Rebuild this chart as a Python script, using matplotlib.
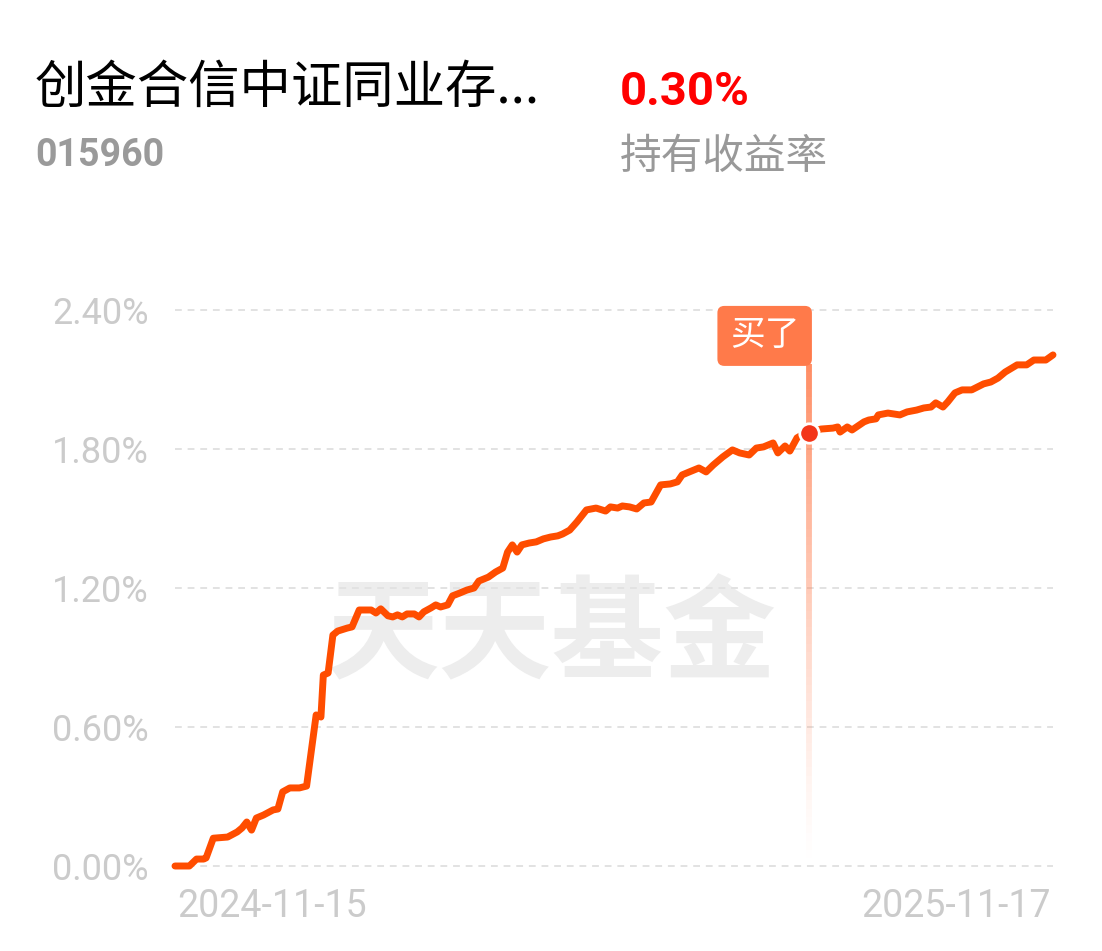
import matplotlib
matplotlib.use("Agg")
import matplotlib.pyplot as plt
import numpy as np
import pandas as pd

plt.rcParams['font.family'] = ['Noto Sans CJK SC', 'DejaVu Sans']

# 数据: 距 2024-11-15 的天数, 累计收益率(%)
start_date = "2024-11-15"
end_date = "2025-11-17"
days = [0, 2, 6, 9, 12, 13, 16, 22, 26, 28, 30, 32, 34, 37, 41, 43, 45, 48, 52, 55,
        59, 61, 62, 64, 66, 68, 72, 74, 77, 82, 84, 86, 89, 91, 93, 95, 97, 100, 102, 104,
        107, 109, 111, 114, 116, 119, 122, 125, 127, 131, 134, 137, 139, 141, 143, 145, 148, 151, 154, 157,
        160, 162, 165, 168, 171, 172, 176, 180, 182, 185, 187, 190, 193, 196, 199, 203, 207, 210, 212, 215,
        219, 222, 225, 229, 233, 236, 240, 243, 246, 250, 252, 255, 257, 260, 262, 265, 270, 275, 277, 278,
        281, 283, 288, 290, 293, 294, 298, 303, 306, 310, 313, 316, 318, 321, 323, 326, 329, 333, 338, 341,
        344, 347, 352, 356, 359, 364, 367]
rates = [0.00, 0.00, 0.00, 0.03, 0.03, 0.035, 0.12, 0.125, 0.147, 0.164, 0.19, 0.155, 0.207, 0.22, 0.242, 0.246, 0.32, 0.337, 0.337, 0.345,
         0.652, 0.643, 0.824, 0.833, 0.997, 1.014, 1.027, 1.032, 1.105, 1.105, 1.092, 1.11, 1.08, 1.075, 1.084, 1.075, 1.088, 1.088, 1.075, 1.097,
         1.114, 1.127, 1.118, 1.127, 1.166, 1.178, 1.191, 1.20, 1.23, 1.247, 1.269, 1.286, 1.355, 1.386, 1.355, 1.386, 1.394, 1.399, 1.412, 1.42,
         1.425, 1.433, 1.45, 1.485, 1.524, 1.537, 1.545, 1.532, 1.55, 1.545, 1.554, 1.55, 1.541, 1.567, 1.571, 1.645, 1.649, 1.658, 1.688, 1.701,
         1.718, 1.701, 1.731, 1.766, 1.796, 1.783, 1.774, 1.804, 1.809, 1.826, 1.783, 1.813, 1.791, 1.848, 1.86, 1.869, 1.886, 1.89, 1.895, 1.873,
         1.895, 1.882, 1.917, 1.925, 1.93, 1.947, 1.955, 1.947, 1.96, 1.968, 1.977, 1.981, 1.999, 1.981, 2.003, 2.042, 2.055, 2.055, 2.081, 2.089,
         2.106, 2.132, 2.163, 2.163, 2.184, 2.184, 2.206]
buy_day = 265
buy_rate = 1.869
y_ticks = [0.0, 0.6, 1.2, 1.8, 2.4]
fund_name = "创金合信中证同业存..."
fund_code = "015960"
hold_return = "0.30%"

dates = pd.to_datetime(start_date) + pd.to_timedelta(days, unit="D")
buy_date = pd.to_datetime(start_date) + pd.to_timedelta(buy_day, unit="D")

fig = plt.figure(figsize=(11.02, 9.51), dpi=100)
ax = fig.add_axes([175 / 1102, 71 / 951, 878 / 1102, 580 / 951])
ax.set_xlim(pd.to_datetime(start_date), pd.to_datetime(end_date))
ax.set_ylim(-0.0604, 2.443)

for s in ax.spines.values():
    s.set_visible(False)

ax.set_yticks(y_ticks)
ax.set_yticklabels([f"{v:.2f}%" for v in y_ticks])
ax.tick_params(axis='y', length=0, pad=19, labelsize=26, labelcolor='#cbcbcb')
for lab in ax.get_yticklabels():
    lab.set_fontfamily(['Roboto', 'DejaVu Sans'])
ax.grid(axis='y', color='#e2e2e2', linestyle=(0, (3.5, 3)), linewidth=1.4)
ax.grid(axis='x', visible=False)

ax.set_xticks([pd.to_datetime(start_date) + pd.Timedelta(days=1), pd.to_datetime(end_date) - pd.Timedelta(days=1)])
ax.set_xticklabels(["2024-11-15", "2025-11-17"])
ax.tick_params(axis='x', length=0, pad=6, labelsize=27, labelcolor='#cbcbcb')
xl = ax.get_xticklabels()
xl[0].set_ha('left')
xl[1].set_ha('right')
for lab in xl:
    lab.set_fontfamily(['Roboto', 'DejaVu Sans'])

# 水印
ax.text(552 / 1102, 1 - 637 / 951, "天天基金", transform=fig.transFigure, fontsize=81,
        fontweight='bold', color='#ededed', ha='center', va='center', zorder=0)

# 买入竖线(渐变)
n_seg = 60
ys = np.linspace(2.167, 0.035, n_seg + 1)
for i in range(n_seg):
    a = 0.85 * (1 - i / n_seg) ** 1.3
    ax.plot([buy_date, buy_date], [ys[i], ys[i + 1]], color='#ff7a4a', alpha=a,
            lw=4.2, solid_capstyle='butt', zorder=2)

ax.plot(dates, rates, color='#ff4d00', lw=5, solid_joinstyle='round',
        solid_capstyle='round', zorder=3, clip_on=False)

ax.plot([buy_date], [buy_rate], 'o', ms=14, color='#f3361a', mec='white', mew=2, zorder=4)

ax.text(buy_date - pd.Timedelta(days=4), 2.288, "买了", fontsize=25, color='white',
        ha='right', va='center', zorder=5,
        bbox=dict(boxstyle='round,pad=0.36,rounding_size=0.2', fc='#ff7a4a', ec='none'))

# 头部文字
fig.text(35 / 1102, 1 - 88 / 951, fund_name, fontsize=37, color='black', ha='left', va='center')
fig.text(35 / 1102, 1 - 156 / 951, fund_code, fontsize=27, color='#9a9a9a', fontweight='bold',
         ha='left', va='center', family=['Roboto', 'DejaVu Sans'])
fig.text(620 / 1102, 1 - 92 / 951, hold_return, fontsize=34, color='#ff0000', fontweight='bold',
         ha='left', va='center', family=['Roboto', 'DejaVu Sans'])
fig.text(620 / 1102, 1 - 158 / 951, "持有收益率", fontsize=30, color='#999999', ha='left', va='center')

fig.savefig("out.png", dpi=100, facecolor='white')
